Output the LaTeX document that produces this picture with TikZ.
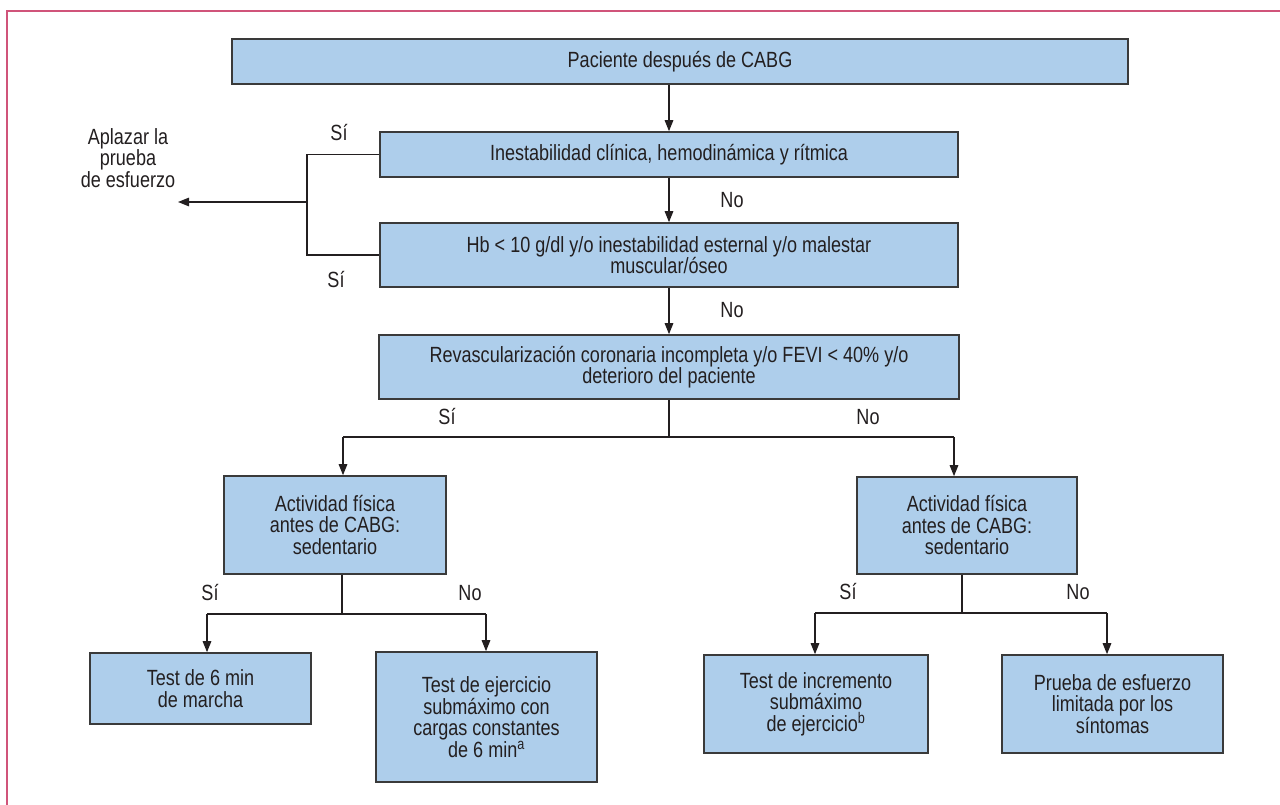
\documentclass[tikz,border=0pt]{standalone}
\usepackage{fontspec}
\setmainfont[FakeStretch=0.82]{Liberation Sans}
\usetikzlibrary{arrows.meta}
\definecolor{boxfill}{RGB}{174,206,235}
\definecolor{boxline}{RGB}{58,58,58}
\definecolor{ink}{RGB}{35,31,32}
\definecolor{framecol}{RGB}{208,84,122}
\newcommand{\fnmark}[1]{\smash{\textsuperscript{#1}}}
\begin{document}
\begin{tikzpicture}[x=1pt,y=-1pt,
  every node/.style={font=\fontsize{22}{21.5}\selectfont, text=ink},
  decision/.style={draw=boxline, line width=1.6pt, fill=boxfill, align=center, inner sep=0pt},
  lbl/.style={inner sep=0pt, align=center},
  conn/.style={draw=ink, line width=1.4pt},
  arr/.style={conn, -{Triangle[length=11pt,width=8.5pt]}}]
\useasboundingbox (0,0) rectangle (1280,805);
\fill[white] (0,0) rectangle (1280,805);
% outer frame
\draw[framecol, line width=2.2pt] (7,805) -- (7,11) -- (1280,11);

% decision boxes
\node[decision, minimum width=896pt, minimum height=45pt] (b1) at (680,61.5) {Paciente después de CABG};
\node[decision, minimum width=578pt, minimum height=45pt] (b2) at (669,154.5) {Inestabilidad clínica, hemodinámica y rítmica};
\node[decision, minimum width=578pt, minimum height=64pt] (b3) at (669,255) {Hb < 10 g/dl y/o inestabilidad esternal y/o malestar\\muscular/óseo};
\node[decision, minimum width=580pt, minimum height=64pt] (b4) at (669,367) {Revascularización coronaria incompleta y/o FEVI < 40\% y/o\\deterioro del paciente};
\node[decision, minimum width=222pt, minimum height=98pt] (la) at (335,525) {Actividad física\\antes de CABG:\\sedentario};
\node[decision, minimum width=220pt, minimum height=97pt] (ra) at (967,525.5) {Actividad física\\antes de CABG:\\sedentario};

% outcome boxes
\node[decision, minimum width=221pt, minimum height=71pt] (l1) at (200.5,688.5) {Test de 6 min\\de marcha};
\node[decision, minimum width=221pt, minimum height=130pt] (l2) at (486.5,717) {Test de ejercicio\\submáximo con\\cargas constantes\\de 6 min\fnmark{a}};
\node[decision, minimum width=224pt, minimum height=98pt] (r1) at (816,704) {Test de incremento\\submáximo\\de ejercicio\fnmark{b}};
\node[decision, minimum width=221pt, minimum height=98pt] (r2) at (1112.5,704) {Prueba de esfuerzo\\limitada por los\\síntomas};

% postpone outcome
\node[lbl] (apl) at (128,158) {Aplazar la\\prueba\\de esfuerzo};
\coordinate (aplend) at (178,202);
\coordinate (jl) at (307,202);

% main chain
\draw[arr] (b1.south -| b2.north) -- (b2.north);
\draw[arr] (b2.south) -- (b3.north);
\draw[arr] (b3.south) -- (b4.north);
\node[lbl] at (732,200) {No};
\node[lbl] at (732,310) {No};

% instability branches
\draw[conn] (b2.west) -| (jl) |- (b3.west);
\draw[arr] (jl) -- (aplend);
\node[lbl] at (339,133) {Sí};
\node[lbl] at (336,280) {Sí};

% revascularisation split
\coordinate (s4) at (669,437);
\coordinate (s4l) at (343,437);
\coordinate (s4r) at (954,437);
\draw[conn] (b4.south) -- (s4);
\draw[conn] (s4l) -- (s4r);
\draw[arr] (s4l) -- (s4l |- la.north);
\draw[arr] (s4r) -- (s4r |- ra.north);
\node[lbl] at (447,417) {Sí};
\node[lbl] at (868,417) {No};

% left activity split
\coordinate (sl) at (342,614);
\coordinate (sll) at (207,614);
\coordinate (slr) at (486,614);
\draw[conn] (sl |- la.south) -- (sl);
\draw[conn] (sll) -- (slr);
\draw[arr] (sll) -- (sll |- l1.north);
\draw[arr] (slr) -- (slr |- l2.north);
\node[lbl] at (210,593) {Sí};
\node[lbl] at (470,593) {No};

% right activity split
\coordinate (sr) at (962,613);
\coordinate (srl) at (815,613);
\coordinate (srr) at (1107,613);
\draw[conn] (sr |- ra.south) -- (sr);
\draw[conn] (srl) -- (srr);
\draw[arr] (srl) -- (srl |- r1.north);
\draw[arr] (srr) -- (srr |- r2.north);
\node[lbl] at (848,592) {Sí};
\node[lbl] at (1078,592) {No};
\end{tikzpicture}
\end{document}
